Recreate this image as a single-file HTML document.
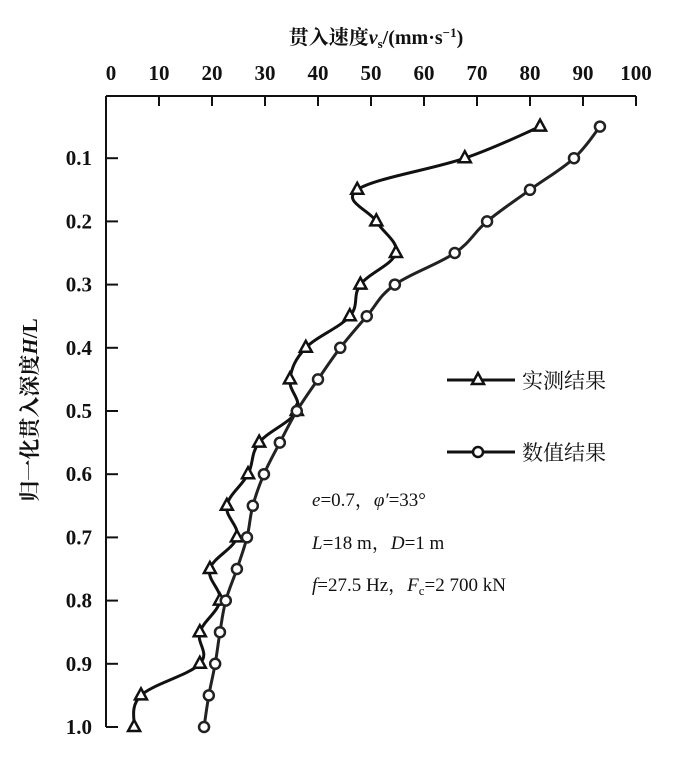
<!DOCTYPE html>
<html><head><meta charset="utf-8"><style>
body{margin:0;background:#fff;}
svg text{font-family:"Liberation Serif","Noto Serif CJK SC",serif;fill:#111;}
</style></head><body>
<svg width="700" height="759" viewBox="0 0 700 759" xmlns="http://www.w3.org/2000/svg">
<g id="axes"></g><g id="series"></g>
<text x="376" y="44" text-anchor="middle" font-size="20" font-weight="bold">贯入速度<tspan font-style="italic">v</tspan><tspan font-size="13" dy="4">s</tspan><tspan dy="-4">/(mm·s</tspan><tspan font-size="13" dy="-7">−1</tspan><tspan dy="7">)</tspan></text>
<text transform="translate(37,410) rotate(-90)" text-anchor="middle" font-size="21" font-weight="bold">归一化贯入深度<tspan font-style="italic">H</tspan>/L</text>
<g>
<line x1="447" y1="380" x2="515" y2="380" stroke="#111" stroke-width="3"/>
<polygon points="478,373 484,384 472,384" fill="#fff" stroke="#111" stroke-width="2.5"/>
<text x="522" y="388" font-size="21">实测结果</text>
<line x1="447" y1="452" x2="515" y2="452" stroke="#111" stroke-width="3"/>
<circle cx="478" cy="452" r="5" fill="#fff" stroke="#111" stroke-width="2.5"/>
<text x="522" y="460" font-size="21">数值结果</text>
</g>
<g font-size="19">
<text x="312" y="506"><tspan font-style="italic">e</tspan>=0.7，<tspan font-style="italic">φ′</tspan>=33°</text>
<text x="312" y="549"><tspan font-style="italic">L</tspan>=18 m，<tspan font-style="italic">D</tspan>=1 m</text>
<text x="312" y="591"><tspan font-style="italic">f</tspan>=27.5 Hz，<tspan font-style="italic">F</tspan><tspan font-size="13" dy="4">c</tspan><tspan dy="-4">=2 700 kN</tspan></text>
</g>
</svg>
<script>
const depths=[0.05,0.1,0.15,0.2,0.25,0.3,0.35,0.4,0.45,0.5,0.55,0.6,0.65,0.7,0.75,0.8,0.85,0.9,0.95,1.0];
const measured=[81.9,67.7,47.4,51,54.7,48,46,37.7,34.7,36,28.9,26.8,22.8,24.7,19.6,21.5,17.7,17.7,6.6,5.3];
const numerical=[93.2,88.3,80,71.9,65.8,54.5,49.2,44.2,40,36,32.8,29.8,27.7,26.6,24.7,22.6,21.5,20.6,19.4,18.5];
const xTicks=[0,10,20,30,40,50,60,70,80,90,100];
const yTicks=[0.1,0.2,0.3,0.4,0.5,0.6,0.7,0.8,0.9,1.0];
const NS="http://www.w3.org/2000/svg";
const X=v=>106+v*5.3, Y=h=>95+h*632;
function mk(t,a,p){const e=document.createElementNS(NS,t);for(const k in a)e.setAttribute(k,a[k]);p.appendChild(e);return e;}
const ax=document.getElementById('axes');
const xl=mk('line',{x1:106,y1:96,x2:X(100),y2:96,stroke:'#111','stroke-width':2},ax);


const yl=mk('line',{x1:106,y1:96,x2:106,y2:Y(1),stroke:'#111','stroke-width':2},ax);


xTicks.forEach(v=>{
 if(v>0)mk('line',{x1:X(v),y1:96,x2:X(v),y2:106,stroke:'#111','stroke-width':2},ax);
 const t=mk('text',{x:X(v)+(v==0?5:0),y:80,'text-anchor':'middle','font-size':21,'font-weight':'bold'},ax);t.textContent=v;
 
 
});
yTicks.forEach(h=>{
 mk('line',{x1:106,y1:Y(h),x2:118,y2:Y(h),stroke:'#111','stroke-width':2},ax);
 const t=mk('text',{x:92,y:Y(h)+7,'text-anchor':'end','font-size':21,'font-weight':'bold'},ax);t.textContent=h.toFixed(1);
 
 
});
function path(vals){
 const p=vals.map((v,i)=>[X(v),Y(depths[i])]);
 let d='M'+p[0];
 for(let i=0;i<p.length-1;i++){
  const p0=p[i-1]||p[i],p1=p[i],p2=p[i+1],p3=p[i+2]||p2,k=0.18;
  d+=' C'+(p1[0]+(p2[0]-p0[0])*k)+','+(p1[1]+(p2[1]-p0[1])*k)+' '+(p2[0]-(p3[0]-p1[0])*k)+','+(p2[1]-(p3[1]-p1[1])*k)+' '+p2;
 }
 return d;
}
const sg=document.getElementById('series');
const l1=mk('path',{d:path(measured),fill:'none',stroke:'#111','stroke-width':3},sg);


const l2=mk('path',{d:path(numerical),fill:'none',stroke:'#222','stroke-width':3},sg);


measured.forEach((v,i)=>{
 const x=X(v),y=Y(depths[i]);
 const m=mk('polygon',{points:`${x},${y-7} ${x+6},${y+4} ${x-6},${y+4}`,fill:'#fff',stroke:'#111','stroke-width':2.5},sg);
 
 
});
numerical.forEach((v,i)=>{
 const c=mk('circle',{cx:X(v),cy:Y(depths[i]),r:5,fill:'#fff',stroke:'#222','stroke-width':2.5},sg);
 
 
});
</script>
</body></html>
